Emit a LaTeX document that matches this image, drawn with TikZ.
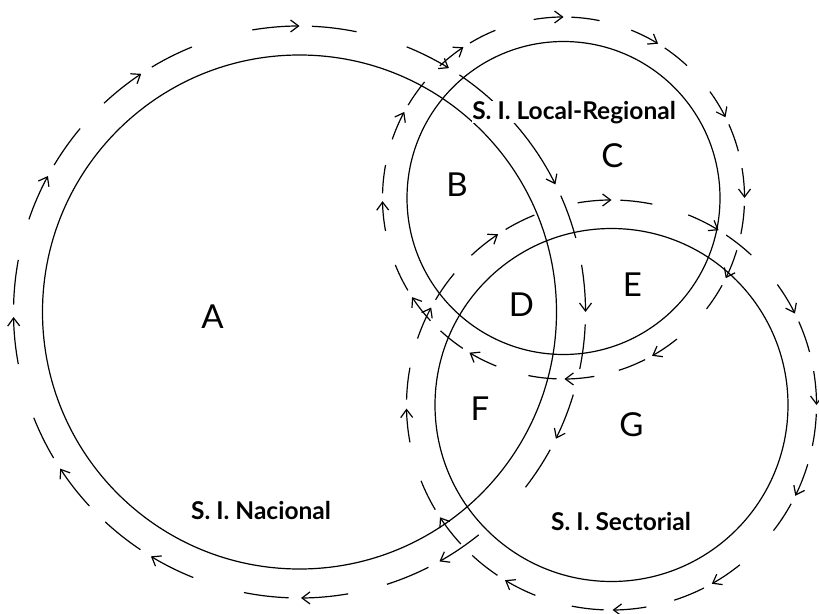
\documentclass[tikz,border=0pt]{standalone}
\usepackage{fontspec}
\setmainfont{Lato}
\usetikzlibrary{arrows.meta}
\begin{document}
\begin{tikzpicture}[x=1pt,y=1pt,
  circ/.style={line width=1.2pt},
  ring/.style={line width=1.2pt},
  ringarrow/.style={line width=1.2pt,-{Straight Barb[length=8pt,width=12pt]}},
  big/.style={font=\fontsize{33}{33}\selectfont, inner sep=0pt},
  title/.style={font=\bfseries\fontsize{24.5}{24.5}\selectfont, inner sep=0pt, anchor=base, fill=white}]
\useasboundingbox (0,0) rectangle (819,-613);
% centres
\coordinate (cA) at (299.5,-312);
\coordinate (cL) at (563.5,-198);
\coordinate (cS) at (611.5,-405);
% solid circles
\draw[circ] (cA) circle[radius=257];
\draw[circ] (cL) circle[radius=156.5];
\draw[circ] (cS) circle[radius=176.5];
% dashed rings with arrows (clockwise)
\newcommand\myring[2]{%
  \foreach \t in {#2} {
    \draw[ringarrow] ([shift={({\t+9.5}:#1)}]\ringc) arc[start angle=\t+9.5, end angle=\t, radius=#1];
    \draw[ring] ([shift={({\t-2.5}:#1)}]\ringc) arc[start angle=\t-2.5, end angle=\t-11.5, radius=#1];
  }}
\def\ringc{cL}
\myring{181}{90,58.5,26.5,0,-26.3,-60.7,-89.7,-121.3,-146.8,-179,151.6,123.6}
\def\ringc{cS}
\myring{205}{90,58.5,26.5,0,-26.3,-60.7,-89.7,-121.3,-146.8,-179,151.6,123.6}
\def\ringc{cA}
\myring{286}{90,0,-26.3,-60.7,-89.7,-121.3,-146.8,-179,151.6,123.6}
\draw[ringarrow] ([shift={(68:286)}]cA) arc[start angle=68, end angle=58.5, radius=286];
\draw[ringarrow] ([shift={(56:286)}]cA) arc[start angle=56, end angle=26.5, radius=286];
\draw[ring] ([shift={(24:286)}]cA) arc[start angle=24, end angle=15, radius=286];
% labels
\node[big] (la) at (212.5,-317) {A};
\node[big] (lb) at (457,-185) {B};
\node[big] (lc) at (612.5,-156) {C};
\node[big] (ld) at (521.5,-304.5) {D};
\node[big] (le) at (632.5,-285) {E};
\node[big] (lf) at (480,-409) {F};
\node[big] (lg) at (631.5,-425) {G};
\node[title] (tl) at (574,-119) {S. I. Local-Regional};
\node[title] (tn) at (261,-519) {S. I. Nacional};
\node[title] (ts) at (621,-530) {S. I. Sectorial};
\end{tikzpicture}
\end{document}
